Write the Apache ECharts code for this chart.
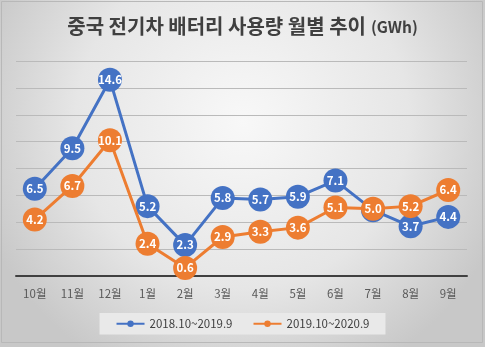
<!DOCTYPE html>
<html><head><meta charset="utf-8">
<script src="https://cdn.jsdelivr.net/npm/echarts@6/dist/echarts.min.js"></script>
<style>html,body{margin:0;padding:0;background:#fff}#c{width:485px;height:347px}</style>
</head><body><div id="c"></div>
<script>
var categories = ['10월','11월','12월','1월','2월','3월','4월','5월','6월','7월','8월','9월'];
var seriesNames = ['2018.10~2019.9','2019.10~2020.9'];
var values2018 = [6.5, 9.5, 14.6, 5.2, 2.3, 5.8, 5.7, 5.9, 7.1, 4.9, 3.7, 4.4];
var values2019 = [4.2, 6.7, 10.1, 2.4, 0.6, 2.9, 3.3, 3.6, 5.1, 5.0, 5.2, 6.4];
var titleMain = '중국 전기차 배터리 사용량 월별 추이';
var titleUnit = '(GWh)';

var FONT = '"Noto Sans CJK KR", "Noto Sans", sans-serif';
var chart = echarts.init(document.getElementById('c'), null, {renderer:'canvas'});
function mkSeries(name, data, color, z){
  return {
    name: name, type: 'line', data: data, z: z,
    symbol: 'circle', symbolSize: 24,
    lineStyle: {width: 3, color: color},
    itemStyle: {color: color},
    label: {show: true, position: 'inside', color: '#fff', fontWeight: 'bold', fontSize: 11.5, fontFamily: FONT,
      formatter: function(p){ return Number(p.value).toFixed(1); }},
    emphasis: {disabled: true},
    animation: false
  };
}
chart.setOption({
  animation: false,
  backgroundColor: {type:'radial', x:0.5, y:0.35, r:0.8,
    colorStops:[{offset:0,color:'#f8f8f8'},{offset:0.6,color:'#e6e6e6'},{offset:1,color:'#c8c8c8'}]},
  graphic: [{type:'rect', shape:{x:1.5,y:1.5,width:481,height:341}, style:{fill:'none', stroke:'#b8b8b8', lineWidth:1}, silent:true}],
  title: {
    text: '{m|' + titleMain + '} {u|' + titleUnit + '}',
    left: 'center', top: 11,
    textStyle: {rich: {
      m: {fontSize: 20, fontWeight: 'bold', color: '#404040', fontFamily: FONT},
      u: {fontSize: 15.5, fontWeight: 'bold', color: '#404040', fontFamily: FONT, padding:[3,0,0,0]}
    }}
  },
  legend: {
    data: seriesNames, left: 'center', top: 313,
    backgroundColor: '#e9e9e9', padding: [5, 16], itemGap: 20, itemWidth: 28, itemHeight: 8, itemTextGap: 2,
    textStyle: {color: '#404040', fontSize: 11.5, fontFamily: FONT}
  },
  grid: {left: 16, right: 18, top: 61, bottom: 71},
  xAxis: {
    type: 'category', data: categories, boundaryGap: true,
    axisLine: {lineStyle: {color: '#404040', width: 2}},
    axisTick: {show: false},
    axisLabel: {color: '#595959', fontSize: 11.5, margin: 12, fontFamily: FONT}
  },
  yAxis: {
    type: 'value', min: 0, max: 16, interval: 2,
    axisLabel: {show: false}, axisLine: {show: false}, axisTick: {show: false},
    splitLine: {lineStyle: {color: '#bababa', width: 1}}
  },
  series: [
    mkSeries(seriesNames[0], values2018, '#4472C4', 2),
    mkSeries(seriesNames[1], values2019, '#ED7D31', 3)
  ]
});
</script></body></html>
